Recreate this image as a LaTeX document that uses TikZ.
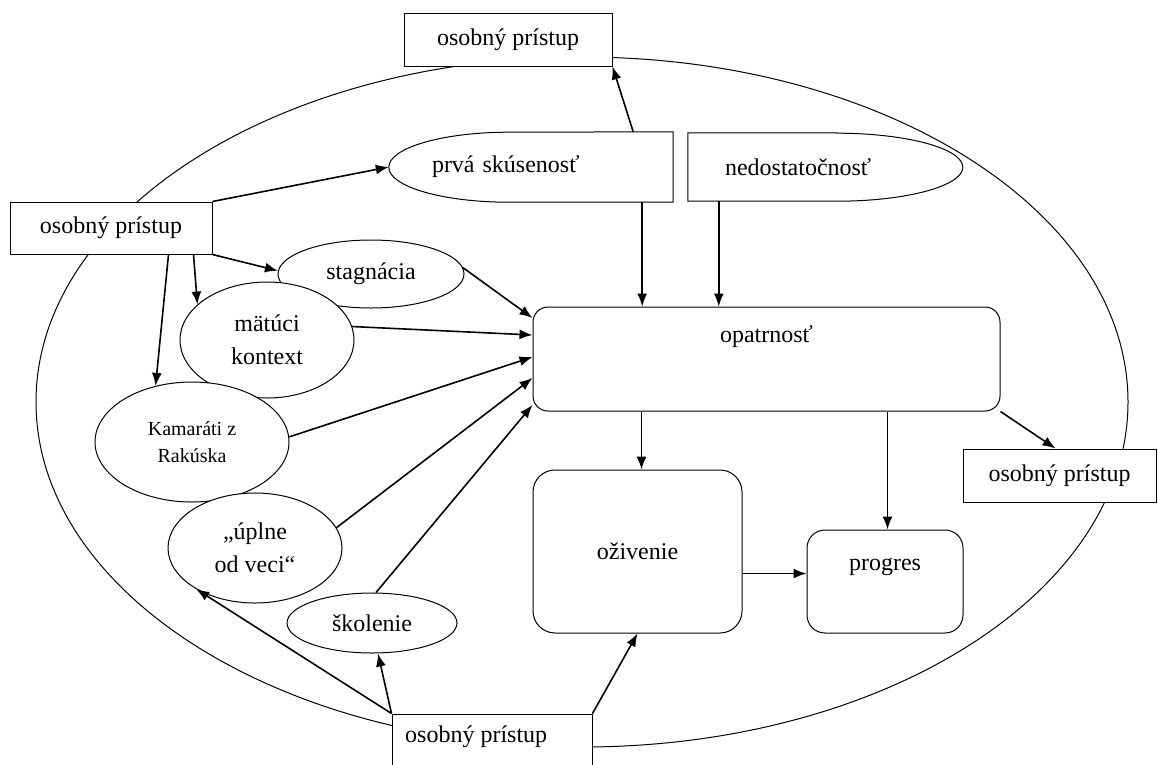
\documentclass[tikz,border=0pt]{standalone}
\usepackage{fontspec}
\setmainfont{Liberation Serif}
\usetikzlibrary{shapes.geometric,arrows.meta,calc}
\begin{document}
\begin{tikzpicture}[x=1pt,y=1pt,
  txt/.style={font=\fontsize{24}{33}\selectfont},
  box/.style={txt, draw, line width=1pt, fill=white, rectangle, inner sep=0pt},
  rbox/.style={box, rounded corners=#1},
  oval/.style={txt, draw, line width=1pt, fill=white, ellipse, inner sep=0pt, align=center},
  outline/.style={line width=1pt},
  arr/.style={line width=1.6pt, -{Latex[length=13pt,width=10pt]}},
]
\useasboundingbox (0,0) rectangle (1158,-764);
% big ellipse
\draw[outline] (582,-402) ellipse [x radius=546, y radius=345];

% boxes
\node[box, minimum width=208pt, minimum height=53pt] (top) at (508,-39.5) {osobný prístup};
\node[box, minimum width=202pt, minimum height=52pt] (left) at (111,-228) {osobný prístup};
\node[box, minimum width=193pt, minimum height=53pt] (right) at (1059.5,-475.5) {osobný prístup};
\node[box, minimum width=200pt, minimum height=76pt] (bot) at (492,-752) {};
\node[txt, anchor=west, inner sep=0pt] (bottxt) at (405,-737) {osobný prístup};

% half-oval shapes
\node[txt, minimum width=284pt, minimum height=70pt, text width=284pt, inner sep=0pt, align=left] (prv) at (531,-167) {\hspace*{43pt}prvá skúsenosť};
\draw[outline] (prv.north east) -- (prv.south east) -- ([xshift=120pt]prv.south west)
  arc[start angle=270, end angle=90, x radius=120, y radius=35] -- cycle;
\node[txt, minimum width=275pt, minimum height=68pt, text width=275pt, inner sep=0pt, align=left] (ned) at (825.5,-167) {\hspace*{37pt}nedostatočnosť};
\draw[outline] ([xshift=149pt]ned.north west) -- (ned.north west) -- (ned.south west) -- ([xshift=149pt]ned.south west)
  arc[start angle=-90, end angle=90, x radius=126, y radius=34] -- cycle;

% rounded boxes
\node[rbox=15pt, minimum width=467pt, minimum height=104pt,
  label={[txt, anchor=center, yshift=-30pt]north:opatrnosť}] (op) at (766.5,-359) {};
\node[rbox=22pt, minimum width=209pt, minimum height=163pt] (oz) at (637.5,-551.5) {\raisebox{-8pt}{oživenie}};
\node[rbox=18pt, minimum width=156pt, minimum height=103pt,
  label={[txt, anchor=center, yshift=-37pt]north:progres}] (pg) at (885,-581.5) {};

% ovals
\node[oval, minimum width=186pt, minimum height=68pt] (stag) at (371,-274) {stagnácia};
\node[oval, minimum width=174pt, minimum height=116pt] (mk) at (267,-340) {mätúci\\kontext};
\node[oval, minimum width=194pt, minimum height=120pt, font=\fontsize{20}{27}\selectfont] (kam) at (192,-442) {Kamaráti z\\Rakúska};
\node[oval, minimum width=174pt, minimum height=110pt] (upl) at (255,-548) {„úplne\\od veci“};
\node[oval, minimum width=170pt, minimum height=60pt] (sko) at (372,-623) {školenie};

% connectors
\draw[arr] ([xshift=-40pt]prv.north east) -- (top.south east);
\draw[arr] (left.north east) -- (prv.west);
\draw[arr] (left.south east) -- (stag.178);
\draw[arr] ([xshift=-19pt]left.south east) -- (mk.153);
\draw[arr] ([xshift=-44pt]left.south east) -- (kam.123);

\coordinate (pb) at ([xshift=-31pt]prv.south east);
\draw[arr] (pb) -- (pb |- op.north);
\coordinate (nb) at ([xshift=31pt]ned.south west);
\draw[arr] (nb) -- (nb |- op.north);

\coordinate (ob1) at ([xshift=109pt]op.south west);
\draw[arr] (ob1) -- (ob1 |- oz.north);
\coordinate (ob2) at ([xshift=355pt]op.south west);
\draw[arr] (ob2) -- (ob2 |- pg.north);
\coordinate (oe) at ([yshift=-22pt]oz.east);
\draw[arr] (oe) -- (oe -| pg.west);
\draw[arr] (op.south east) -- ([xshift=-4pt]right.north);

\draw[arr] (stag.4) -- ([yshift=41pt]op.west);
\draw[arr] (mk.9) -- ([yshift=24pt]op.west);
\draw[arr] (kam.3) -- ([yshift=2pt]op.west);
\draw[arr] (upl.14) -- ([yshift=-19pt]op.west);
\draw[arr] ([xshift=4pt]sko.north) -- ([yshift=-46pt]op.west);

\draw[arr] (bot.north west) -- (upl.215);
\draw[arr] (bot.north west) -- ([xshift=6pt]sko.south);
\draw[arr] (bot.north east) -- (oz.south);
\end{tikzpicture}
\end{document}
